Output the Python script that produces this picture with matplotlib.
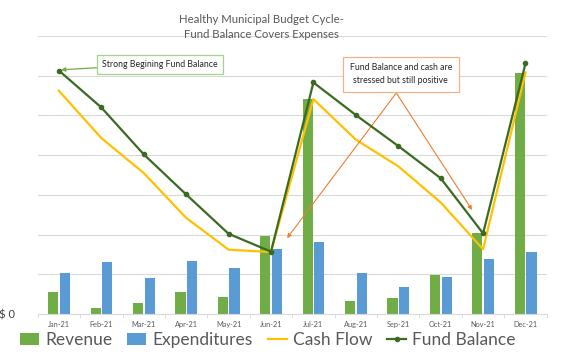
import matplotlib
matplotlib.use("Agg")
import matplotlib.pyplot as plt
import numpy as np

plt.rcParams["font.family"] = ["Lato", "DejaVu Sans"]

months = ["Jan-21", "Feb-21", "Mar-21", "Apr-21", "May-21", "Jun-21",
          "Jul-21", "Aug-21", "Sep-21", "Oct-21", "Nov-21", "Dec-21"]
revenue = [0.56, 0.16, 0.28, 0.56, 0.42, 1.97, 5.41, 0.32, 0.40, 0.97, 2.03, 6.08]
expenditures = [1.04, 1.30, 0.91, 1.34, 1.15, 1.63, 1.82, 1.04, 0.68, 0.94, 1.38, 1.57]
cash_flow = [5.62, 4.43, 3.55, 2.42, 1.62, 1.56, 5.41, 4.39, 3.72, 2.81, 1.63, 6.08]
fund_balance = [6.13, 5.20, 4.02, 3.01, 2.02, 1.57, 5.83, 5.01, 4.23, 3.42, 2.03, 6.31]

GREEN = "#70AD47"
BLUE = "#5B9BD5"
GOLD = "#FFC000"
DARK = "#3B6A22"
GREY = "#595959"

W, H = 567, 357
fig = plt.figure(figsize=(W / 100, H / 100), dpi=100)
ax = fig.add_axes([37.7 / W, 1 - 314 / H, 509 / W, 278 / H])

x = np.arange(len(months))
bw = 0.24
b1 = ax.bar(x - 0.135, revenue, bw, color=GREEN, label="Revenue", zorder=2)
b2 = ax.bar(x + 0.14, expenditures, bw, color=BLUE, label="Expenditures", zorder=2)
l1, = ax.plot(x, cash_flow, color=GOLD, lw=1.6, label="Cash Flow", zorder=3)
l2, = ax.plot(x, fund_balance, color=DARK, lw=1.6, marker="o", ms=3,
              label="Fund Balance", zorder=4)

ax.set_xlim(-0.5, len(months) - 0.5)
ax.set_ylim(0, 7)
ax.set_yticks(np.arange(0, 8))
ax.set_yticklabels(["$ 0"] + [""] * 7)
ax.grid(axis="y", color="#D9D9D9", lw=0.8, zorder=0)
ax.set_axisbelow(True)
for s in ["top", "right", "left"]:
    ax.spines[s].set_visible(False)
ax.spines["bottom"].set_color("#D9D9D9")
ax.tick_params(axis="y", length=0, pad=16, labelsize=8, labelcolor="#404040")
ax.set_xticks(x)
ax.set_xticklabels(months)
ax.tick_params(axis="x", which="major", length=0, pad=5, labelsize=5.3,
               labelcolor=GREY)
ax.set_xticks(np.arange(-0.5, len(months)), minor=True)
ax.tick_params(axis="x", which="minor", length=3, color="#D9D9D9")

fig.text(261.5 / W, 1 - 19.3 / H, "Healthy Municipal Budget Cycle-",
         ha="center", va="center", fontsize=8.2, color=GREY)
fig.text(261.5 / W, 1 - 34.3 / H, "Fund Balance Covers Expenses",
         ha="center", va="center", fontsize=8.2, color=GREY)

# annotations
ax.annotate("Strong Begining Fund Balance", xy=(0.05, fund_balance[0] + 0.02),
            xytext=(160 / W, 1 - 64.3 / H), textcoords="figure fraction",
            ha="center", va="center", fontsize=6.3, color="#262626",
            bbox=dict(boxstyle="square,pad=0.6", fc="white", ec="#A9D18E", lw=0.9),
            arrowprops=dict(arrowstyle="-|>", color=GREEN, lw=0.9,
                            mutation_scale=6, shrinkA=0, shrinkB=0))

fig.text(400.8 / W, 1 - 74.3 / H, "Fund Balance and cash are\nstressed but still positive",
         ha="center", va="center", fontsize=6.3, color="#262626", linespacing=1.6,
         bbox=dict(boxstyle="square,pad=0.75", fc="white", ec="#F4B183", lw=0.9))
apex = (396.3 / W, 1 - 93 / H)
for target in [(5.38, 1.91), (9.74, 2.62)]:
    ax.annotate("", xy=target, xycoords="data", xytext=apex,
                textcoords="figure fraction",
                arrowprops=dict(arrowstyle="-|>", color="#ED7D31", lw=0.8,
                                mutation_scale=6, shrinkA=0, shrinkB=0))

fig.legend([b1, b2, l1, l2], ["Revenue", "Expenditures", "Cash Flow", "Fund Balance"],
           loc="center", bbox_to_anchor=(268 / W, 1 - 340 / H),
           ncol=4, frameon=False, fontsize=12.5, labelcolor=GREY,
           handlelength=1.1, handleheight=0.65, handletextpad=0.35,
           columnspacing=0.85, borderpad=0)

fig.savefig("out.png", dpi=100)
